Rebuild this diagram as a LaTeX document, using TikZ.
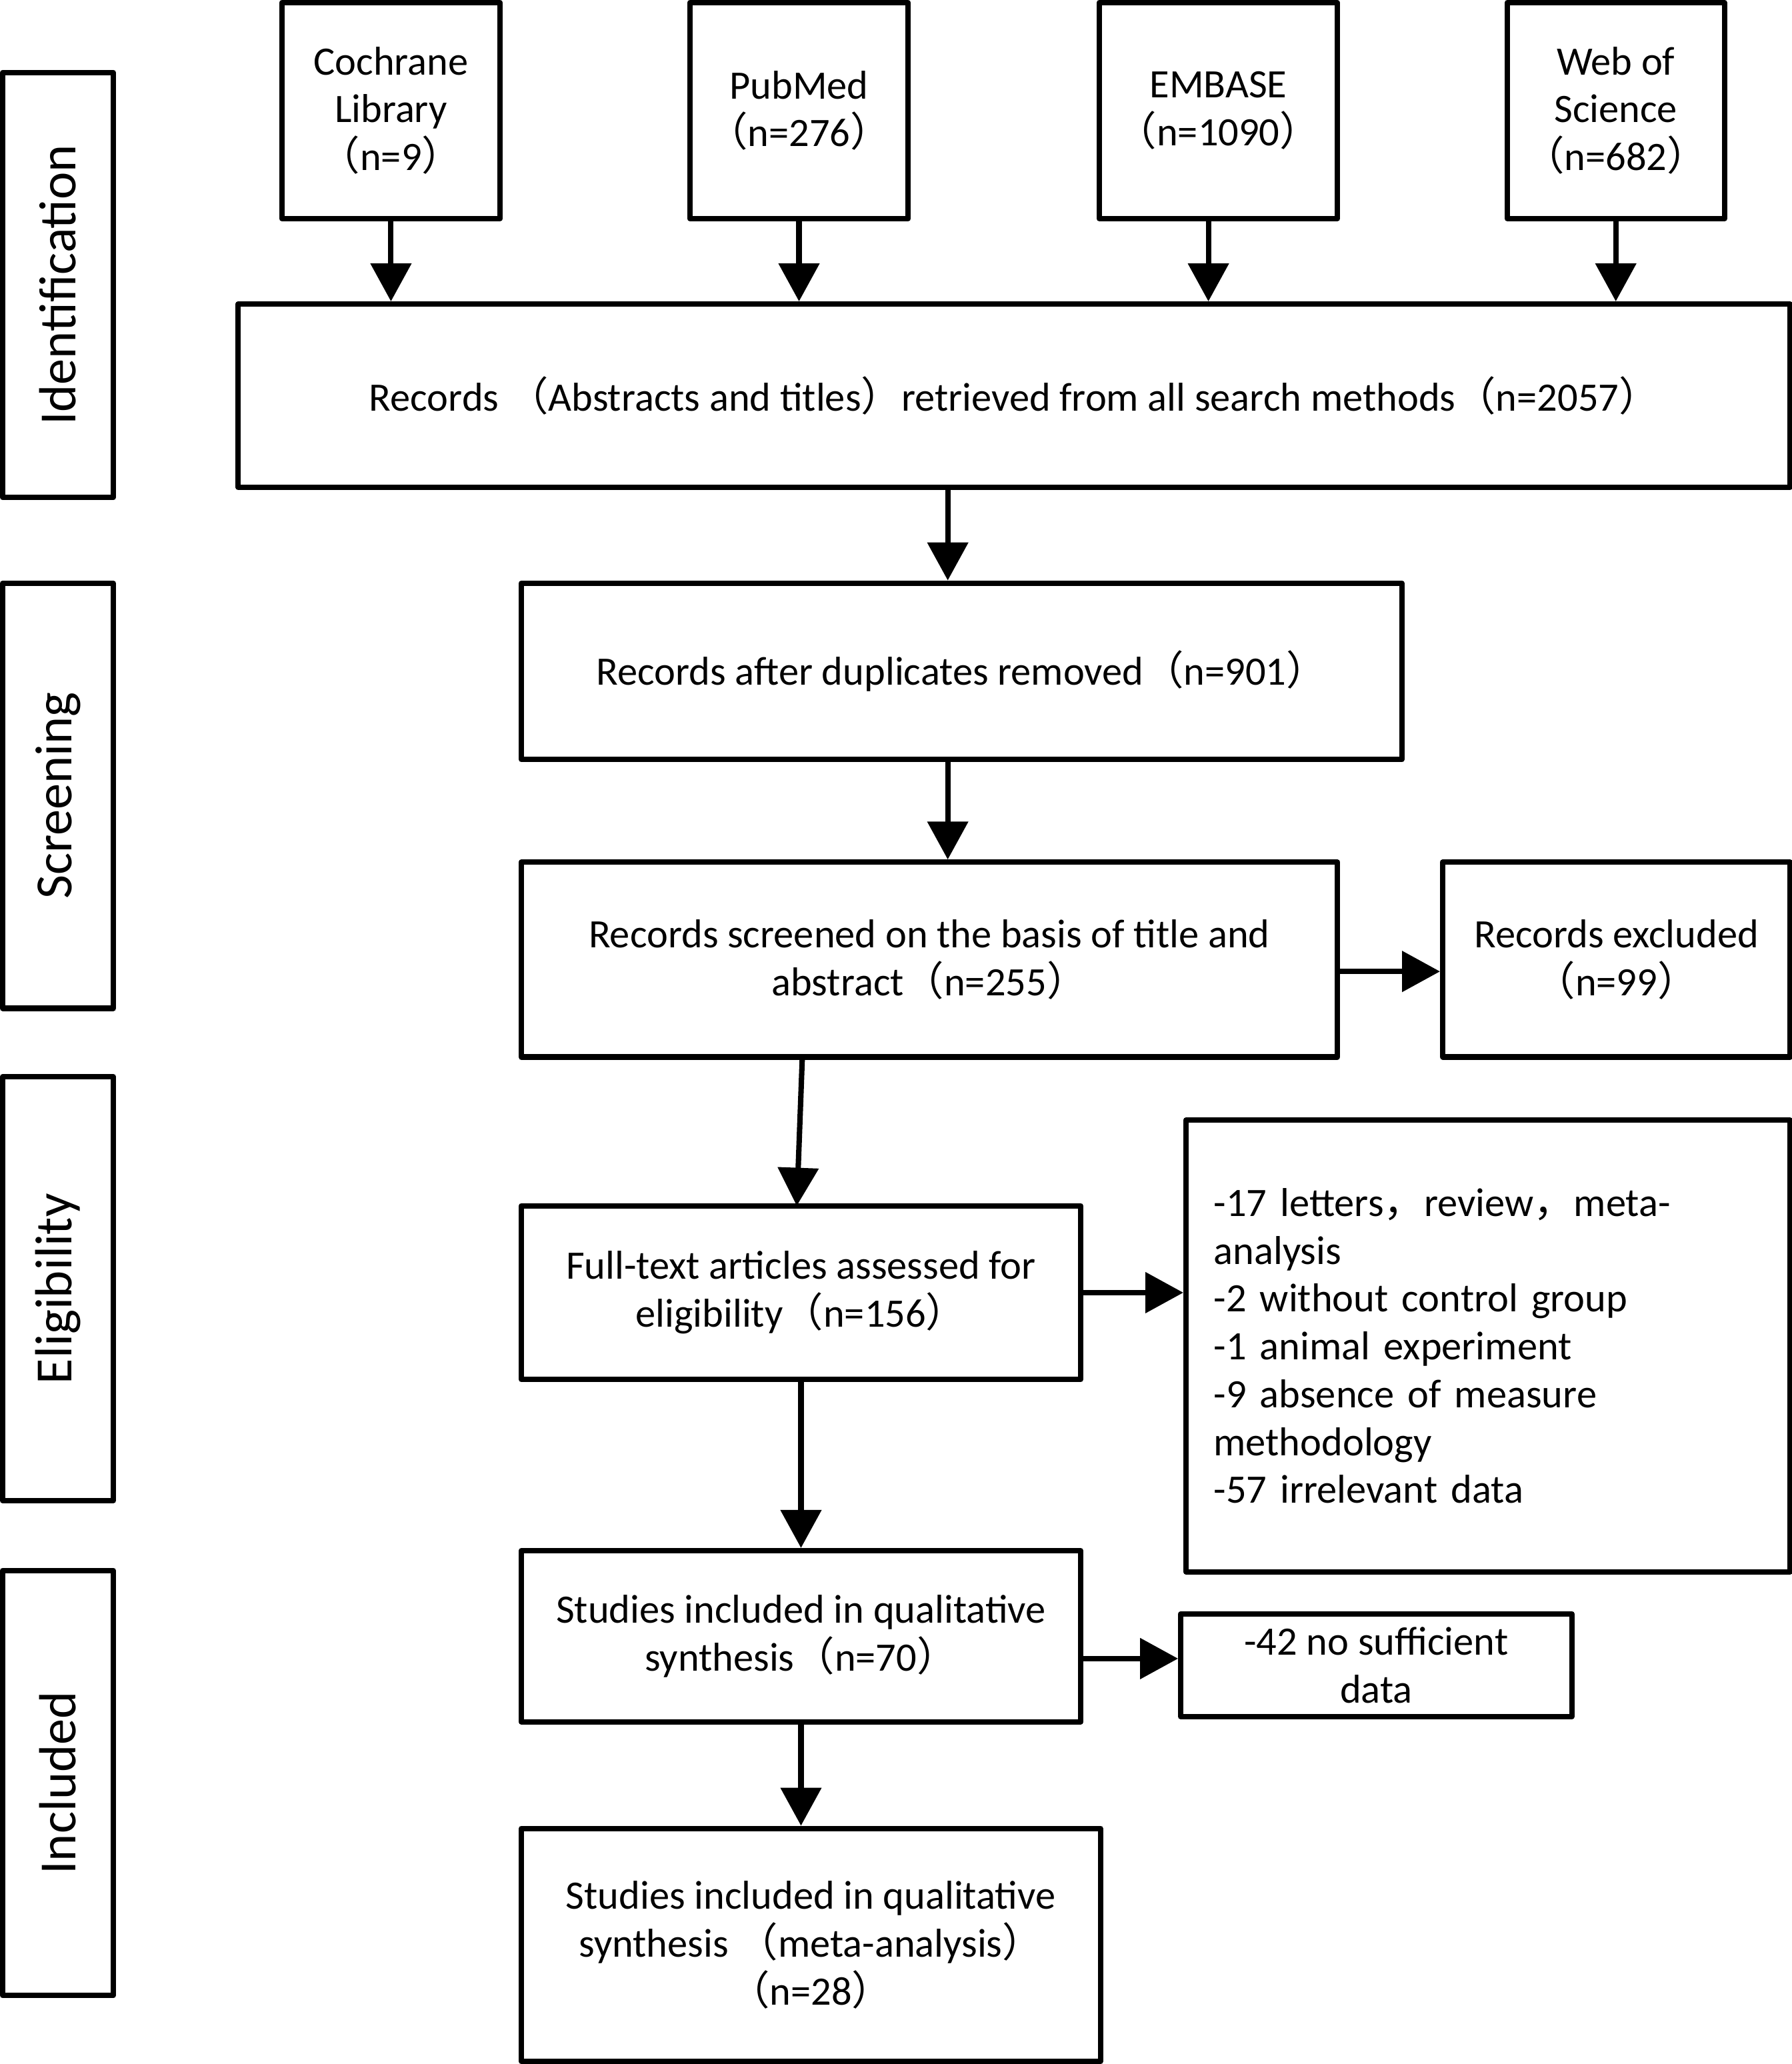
\documentclass[tikz,border=0pt]{standalone}
\usepackage{graphicx}
\usepackage{fontspec}
\setmainfont{Carlito}
\newfontfamily\cjkf{Noto Sans CJK SC}
\usetikzlibrary{arrows.meta}
\newcommand\LP{{\cjkf （}}
\newcommand\RP{{\cjkf ）}}
\newcommand\CM{{\cjkf ，}}
\def\U{0.019743cm}
\newcommand\bx[7][]{\node[box,minimum width={(#5-#3)*\U},minimum height={(#6-#4)*\U},#1] (#2) at ({(#3+#5)/2},{(#4+#6)/2}) {#7};}
\newcommand\sidetext[1]{\rotatebox{90}{\fontsize{22.3}{26}\selectfont #1}}
\begin{document}
\begin{tikzpicture}[x=0.019743cm, y=-0.019743cm,
  box/.style={draw, line width=2.3pt, line join=round, align=center, inner sep=0pt,
    font=\fontsize{17.2}{20.4}\selectfont},
  arr/.style={line width=2.3pt, -{Triangle[length=0.57cm, width=0.6cm]}}]
\fill[white] (0,0) rectangle (1361,1568);
\useasboundingbox (0,0) rectangle (1361,1568);

% side labels
\bx{idbox}{2}{55}{86}{378}{\sidetext{Identification}}
\bx{scbox}{2}{443}{86}{766}{\sidetext{Screening}}
\bx{elbox}{2}{818}{86}{1140}{\sidetext{Eligibility}}
\bx{inbox}{2}{1193}{86}{1516}{\sidetext{Included}}

% sources
\bx{cochrane}{214}{2}{380}{166}{Cochrane\\Library\\\LP n=9\RP}
\bx{pubmed}{524}{2}{690}{166}{PubMed\\\LP n=276\RP}
\bx{embase}{835}{2}{1016}{166}{EMBASE\\\LP n=1090\RP}
\bx{wos}{1145}{2}{1310}{166}{Web of\\Science\\\LP n=682\RP}

\bx{records}{181}{231}{1360}{370}{Records \LP Abstracts and titles\RP retrieved from all search methods\LP n=2057\RP}
\bx{dup}{396}{443}{1065}{577}{Records after duplicates removed\LP n=901\RP}
\bx{screened}{396}{655}{1016}{803}{Records screened on the basis of title and\\abstract\LP n=255\RP}
\bx{excluded}{1096}{655}{1360}{803}{Records excluded\\\LP n=99\RP}
\bx{fulltext}{396}{916}{821}{1048}{Full-text articles assessed for\\eligibility\LP n=156\RP}
\bx[align=left, text width=8.233cm]{reasons}{901}{851}{1360}{1194}{-17 letters\CM review\CM meta-\\analysis\\-2 without control group\\-1 animal experiment\\-9 absence of measure\\methodology\\-57 irrelevant data}
\bx{studies}{396}{1178}{821}{1308}{Studies included in qualitative\\synthesis\LP n=70\RP}
\bx{insuff}{897}{1226}{1194}{1304}{-42 no sufficient\\data}
\bx{final}{396}{1389}{836}{1566}{Studies included in qualitative\\synthesis \LP meta-analysis\RP\\\LP n=28\RP}

% helper coordinates
\coordinate (cE) at (918,0);
\coordinate (cR) at (720,0);
\coordinate (cS1) at (609.5,803);
\coordinate (cS2) at (605.3,916);
\coordinate (cX) at (0,738);
\coordinate (cI) at (0,1260);

% arrows
\draw[arr] (cochrane.south) -- (cochrane.south |- records.north);
\draw[arr] (pubmed.south) -- (pubmed.south |- records.north);
\draw[arr] (embase.south -| cE) -- (records.north -| cE);
\draw[arr] (wos.south) -- (wos.south |- records.north);
\draw[arr] (records.south -| cR) -- (dup.north -| cR);
\draw[arr] (dup.south -| cR) -- (screened.north -| cR);
\draw[arr] (cS1) -- (cS2);
\draw[arr] (screened.east |- cX) -- (excluded.west |- cX);
\draw[arr] (fulltext.east) -- (reasons.west |- fulltext.east);
\draw[arr] (fulltext.south) -- (studies.north);
\draw[arr] (studies.east |- cI) -- (insuff.west |- cI);
\draw[arr] (studies.south) -- (studies.south |- final.north);
\end{tikzpicture}
\end{document}
